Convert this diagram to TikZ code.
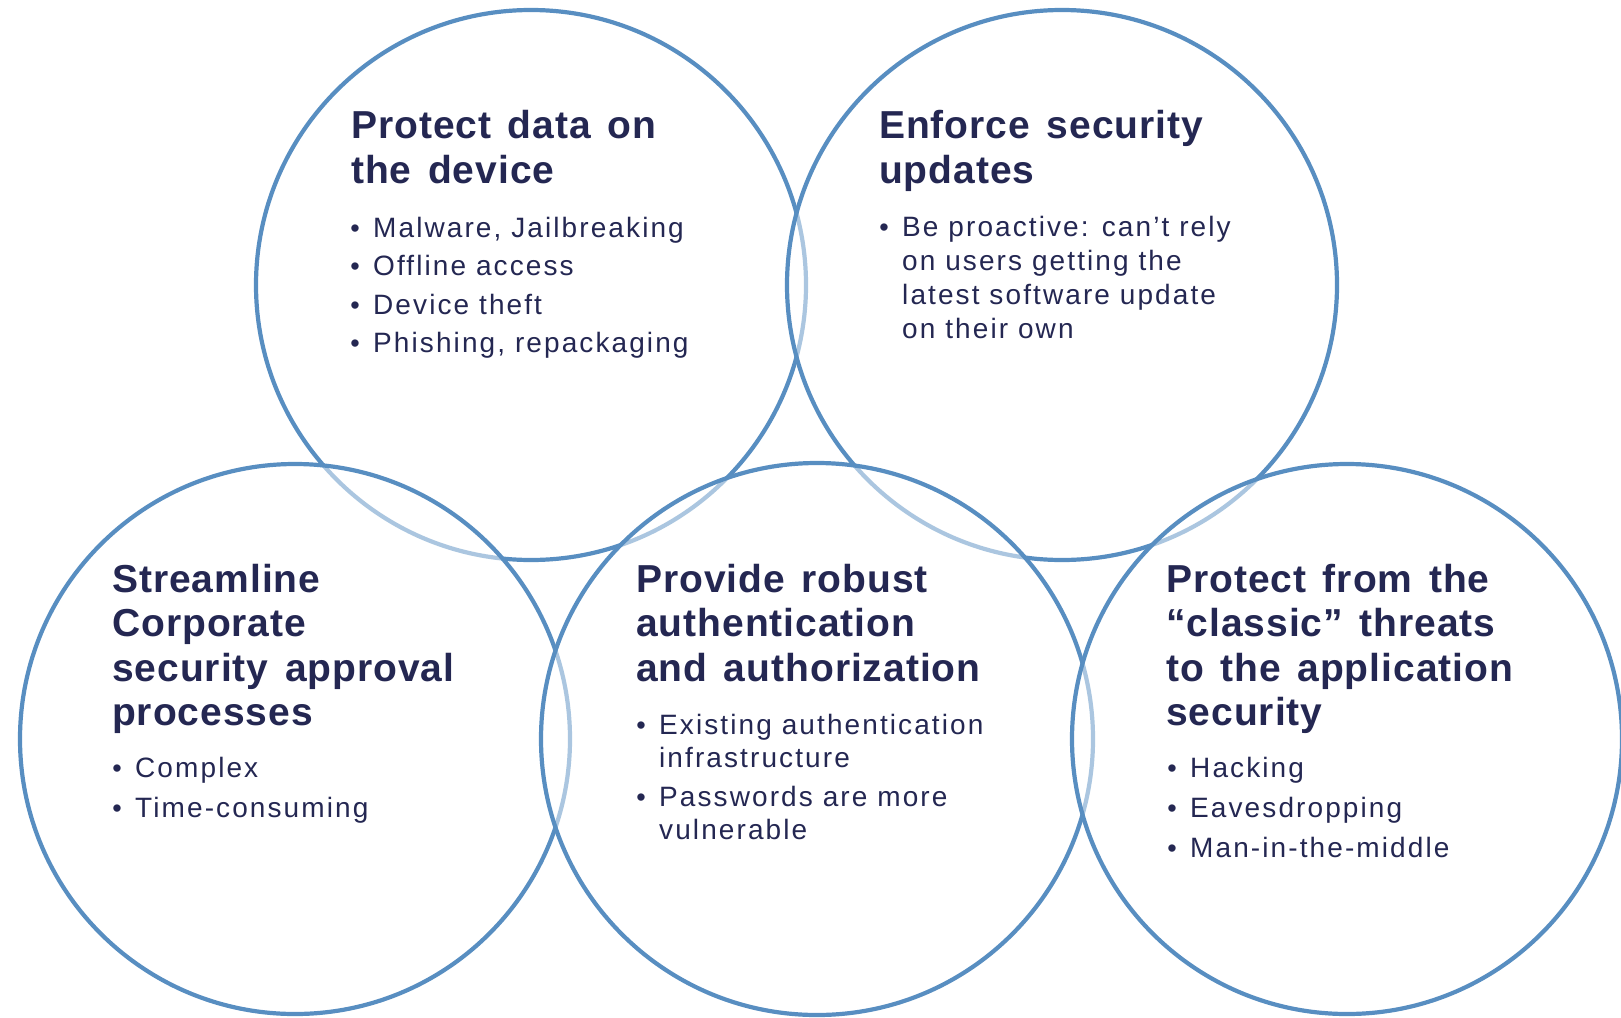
\documentclass[tikz,border=0pt]{standalone}
\usepackage{fontspec}
\setmainfont{Liberation Sans}
\newfontfamily\titlefont{Liberation Sans}[LetterSpace=2.5,WordSpace=1.4]
\newfontfamily\bodyfont{Liberation Sans}[LetterSpace=7.5]
\newfontfamily\bulfont{Liberation Sans}
\definecolor{ringblue}{RGB}{88,142,193}
\definecolor{navy}{RGB}{36,39,82}
\tikzset{
  ring/.style={draw=ringblue, line width=4.2pt, fill=white, fill opacity=0.5, draw opacity=1},
  ttl/.style={anchor=base west, inner sep=0pt, text=navy, font=\titlefont\bfseries\fontsize{39}{44}\selectfont},
  body/.style={anchor=base west, inner sep=0pt, text=navy, font=\bodyfont\fontsize{28}{34}\selectfont},
  dot/.style={anchor=base, inner sep=0pt, text=navy, font=\bulfont\fontsize{27}{34}\selectfont}
}
\begin{document}
\begin{tikzpicture}[x=1pt,y=-1pt]
\useasboundingbox (0,0) rectangle (1621,1017);
% circles, drawn in order so later ones veil earlier ones
\draw[ring] (531,285) circle[radius=275pt];
\draw[ring] (1062,285) circle[radius=275pt];
\draw[ring] (295,739) circle[radius=275pt];
\draw[ring] (817,739) circle[radius=276pt];
\draw[ring] (1347,739) circle[radius=275pt];
% top left
\node[ttl] (tl1) at (351,138.5) {Protect data on};
\node[ttl] (tl2) at (351,183.5) {the device};
\node[dot] (tlb1) at (355,237) {•};
\node[body] (tlt1) at (373,237) {Malware, Jailbreaking};
\node[dot] (tlb2) at (355,275.5) {•};
\node[body] (tlt2) at (373,275.5) {Offline access};
\node[dot] (tlb3) at (355,314) {•};
\node[body] (tlt3) at (373,314) {Device theft};
\node[dot] (tlb4) at (355,352.5) {•};
\node[body] (tlt4) at (373,352.5) {Phishing, repackaging};
% top right
\node[ttl] (tr1) at (879,138.5) {Enforce security};
\node[ttl] (tr2) at (879,183.5) {updates};
\node[dot] (trb1) at (884,236.5) {•};
\node[body] (trt1) at (902,236.5) {Be proactive: can’t rely};
\node[body] (trt2) at (902,270.5) {on users getting the};
\node[body] (trt3) at (902,304.5) {latest software update};
\node[body] (trt4) at (902,338) {on their own};
% bottom left
\node[ttl] (bl1) at (112,592) {Streamline};
\node[ttl] (bl2) at (112,636.5) {Corporate};
\node[ttl] (bl3) at (112,681) {security approval};
\node[ttl] (bl4) at (112,725.5) {processes};
\node[dot] (blb1) at (117,777) {•};
\node[body] (blt1) at (135,777) {Complex};
\node[dot] (blb2) at (117,817) {•};
\node[body] (blt2) at (135,817) {Time-consuming};
% bottom middle
\node[ttl] (bm1) at (636,592) {Provide robust};
\node[ttl] (bm2) at (636,636.5) {authentication};
\node[ttl] (bm3) at (636,681) {and authorization};
\node[dot] (bmb1) at (641,734) {•};
\node[body] (bmt1) at (659,734) {Existing authentication};
\node[body] (bmt2) at (659,767) {infrastructure};
\node[dot] (bmb2) at (641,806) {•};
\node[body] (bmt3) at (659,806) {Passwords are more};
\node[body] (bmt4) at (659,839.5) {vulnerable};
% bottom right
\node[ttl] (br1) at (1166,592) {Protect from the};
\node[ttl] (br2) at (1166,636.5) {“classic” threats};
\node[ttl] (br3) at (1166,681) {to the application};
\node[ttl] (br4) at (1166,725.5) {security};
\node[dot] (brb1) at (1172,777) {•};
\node[body] (brt1) at (1190,777) {Hacking};
\node[dot] (brb2) at (1172,817) {•};
\node[body] (brt2) at (1190,817) {Eavesdropping};
\node[dot] (brb3) at (1172,857) {•};
\node[body] (brt3) at (1190,857) {Man-in-the-middle};
\end{tikzpicture}
\end{document}
